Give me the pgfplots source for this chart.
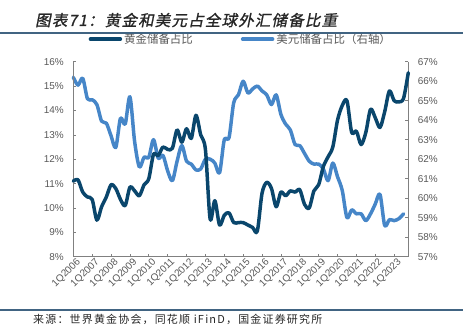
\documentclass[border=0pt]{standalone}
\usepackage{fontspec}
\setmainfont{Liberation Sans}
\newfontfamily\cjk{Noto Sans CJK SC}
\newfontfamily\cjksrc[LetterSpace=11]{Noto Sans CJK SC}
\newfontfamily\cjktitle[FakeSlant=0.2,FakeBold=1.2,LetterSpace=8]{Noto Sans CJK SC}
\usepackage{pgfplots}
\pgfplotsset{compat=1.18}
\definecolor{goldc}{RGB}{10,70,108}
\definecolor{usdc}{RGB}{70,134,200}
\definecolor{axc}{RGB}{128,128,128}
\definecolor{txc}{RGB}{89,89,89}
\definecolor{rulec}{RGB}{65,100,130}
\pgfplotstableread{
x y
0 11.10
1 11.15
2 10.65
3 10.45
4 10.35
5 9.50
6 10.05
7 10.45
8 10.95
9 10.80
10 10.35
11 10.10
12 10.85
13 10.70
14 10.50
15 10.95
16 11.20
17 12.20
18 12.15
19 12.50
20 12.40
21 12.45
22 13.20
23 12.70
24 13.25
25 12.85
26 13.80
27 13.00
28 12.40
29 9.55
30 10.30
31 9.30
32 9.70
33 9.80
34 9.40
35 9.40
36 9.40
37 9.30
38 9.20
39 9.05
40 10.60
41 11.05
42 10.80
43 10.05
44 10.65
45 10.50
46 10.70
47 10.65
48 10.75
49 10.15
50 10.00
51 10.70
52 10.95
53 11.70
54 12.10
55 12.50
56 13.60
57 14.20
58 14.40
59 13.10
60 13.15
61 12.60
62 13.10
63 14.05
64 13.70
65 13.30
66 13.95
67 14.80
68 14.40
69 14.35
70 14.50
71 15.55
}\golddata
\pgfplotstableread{
x y
0 66.20
1 65.80
2 66.15
3 65.10
4 65.05
5 64.80
6 63.95
7 63.85
8 63.20
9 62.60
10 64.10
11 63.80
12 65.20
13 62.90
14 61.60
15 62.10
16 62.10
17 63.00
18 62.05
19 62.20
20 61.40
21 60.90
22 61.90
23 62.70
24 61.90
25 61.75
26 61.45
27 61.50
28 62.00
29 62.00
30 61.80
31 61.30
32 63.00
33 63.10
34 64.90
35 65.30
36 66.00
37 65.40
38 65.60
39 65.75
40 65.50
41 65.30
42 64.80
43 65.30
44 64.30
45 63.80
46 63.50
47 62.75
48 62.70
49 62.30
50 61.90
51 61.75
52 61.75
53 61.50
54 60.90
55 61.80
56 61.10
57 60.40
58 59.00
59 59.40
60 59.20
61 59.20
62 58.85
63 59.20
64 59.70
65 60.20
66 58.60
67 58.90
68 58.85
69 58.95
70 59.20
}\usddata
\begin{document}
\begin{tikzpicture}
\path[use as bounding box] (-73.3bp,-73.3bp) rectangle (394.7bp,256.7bp);
\pgfplotsset{
  every axis/.append style={
    at={(0,0)}, anchor=south west, scale only axis,
    width=335bp, height=195bp, xmin=0, xmax=71, clip=false,
    tick align=inside, major tick length=3bp,
    axis line style={axc, line width=0.8pt},
    every tick/.style={axc, line width=0.6pt},
    tick label style={text=txc, font=\fontsize{10}{12}\selectfont},
  }
}
\begin{axis}[
  axis y line*=right, axis x line*=bottom,
  ymin=57, ymax=67, ytick={57,58,...,67},
  yticklabels={57\%,58\%,59\%,60\%,61\%,62\%,63\%,64\%,65\%,66\%,67\%},
  yticklabel style={xshift=6bp},
  xtick={0,4,...,68},
  xticklabels={1Q2006,1Q2007,1Q2008,1Q2009,1Q2010,1Q2011,1Q2012,1Q2013,1Q2014,1Q2015,1Q2016,1Q2017,1Q2018,1Q2019,1Q2020,1Q2021,1Q2022,1Q2023},
  xticklabel style={rotate=45, anchor=north east, inner sep=0.5bp, yshift=-1.5bp, xshift=2bp,
    font=\fontsize{10}{12}\selectfont},
]
\addplot[usdc, line width=3.5pt, smooth, line cap=round, line join=round] table {\usddata};
\end{axis}
\begin{axis}[
  axis y line*=left, axis x line=none,
  ymin=8, ymax=16, ytick={8,9,...,16},
  yticklabels={8\%,9\%,10\%,11\%,12\%,13\%,14\%,15\%,16\%},
  yticklabel style={xshift=-6bp},
  legend style={at={(0.5,1)}, anchor=center, yshift=22.5bp, draw=none, fill=none,
    font=\cjk\fontsize{11.5}{13}\selectfont, text=txc, legend columns=2,
    /tikz/every even column/.append style={column sep=46bp}},
  legend image code/.code={\draw[#1, line width=3.5pt, line cap=round] (0bp,0bp) -- (30bp,0bp);},
]
\addplot[goldc, line width=3.5pt, smooth, line cap=round, line join=round] table {\golddata};
\addlegendentry{黄金储备占比}
\addlegendimage{usdc}
\addlegendentry{美元储备占比（右轴）}
\end{axis}
\draw[rulec, line width=1.2pt] (-73.3bp,223.7bp) -- (389.7bp,223.7bp);
\draw[rulec, line width=1.2pt] (-73.3bp,-53.3bp) -- (389.7bp,-53.3bp);
\node[anchor=base west, inner sep=0pt, text=black!85] at (-38.3bp,230.7bp) {\cjktitle\fontsize{15.5}{18}\selectfont 图表71：黄金和美元占全球外汇储备比重};
\node[anchor=base west, inner sep=0pt, text=black!85] at (-40.3bp,-66.8bp) {\cjksrc\fontsize{11}{13}\selectfont 来源：世界黄金协会，同花顺 iFinD，国金证券研究所};
\end{tikzpicture}
\end{document}
